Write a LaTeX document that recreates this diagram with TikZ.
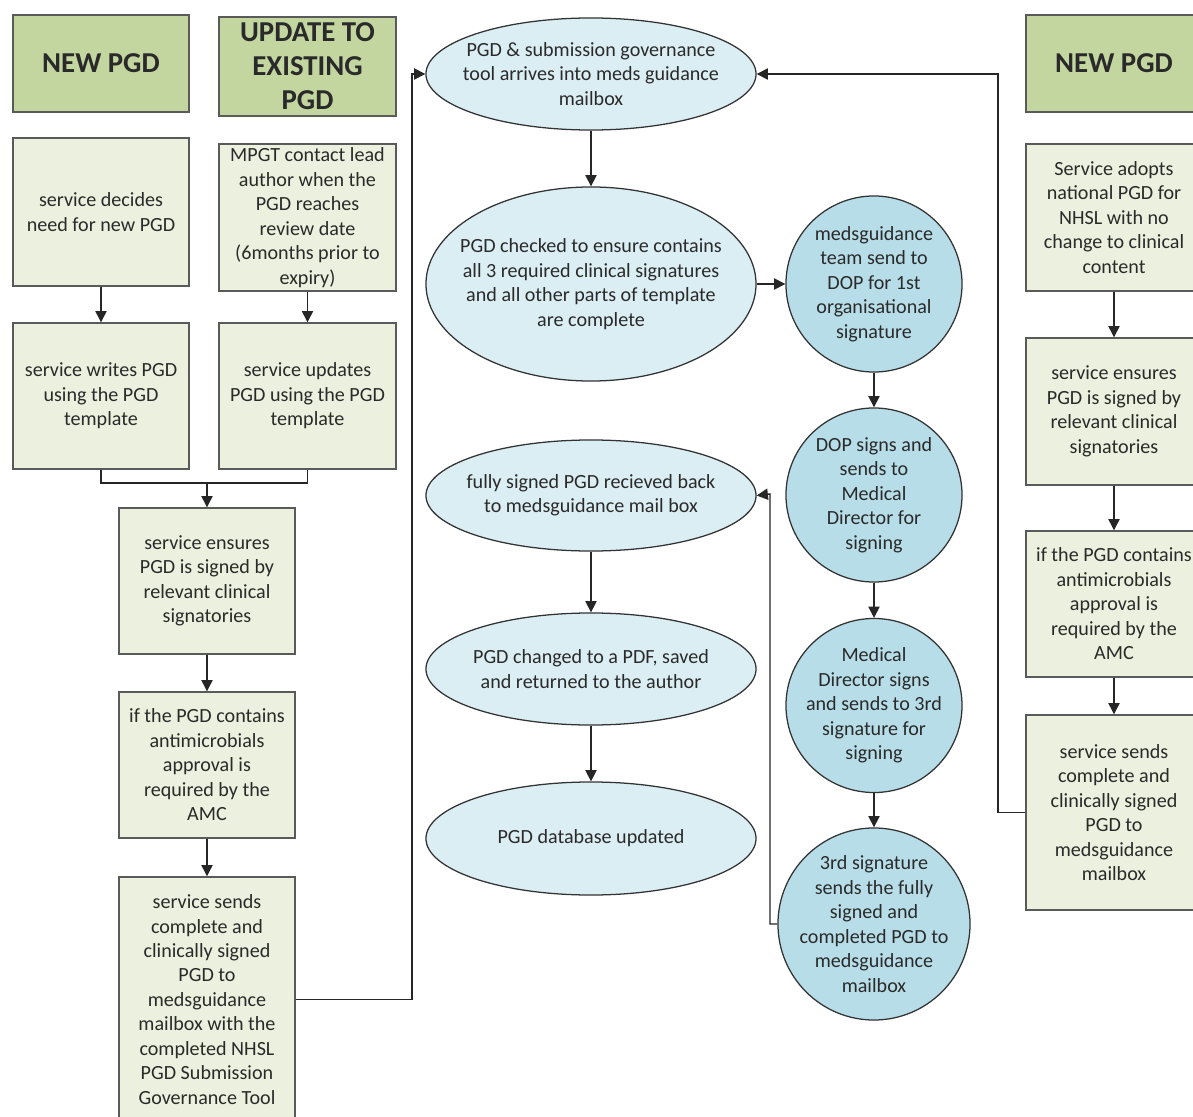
\documentclass[tikz,border=0pt]{standalone}
\usepackage{fontspec}
\setmainfont{Carlito}
\usetikzlibrary{shapes.geometric,arrows.meta}
\definecolor{hdr}{HTML}{C4D6A0}
\definecolor{boxg}{HTML}{EBF1DE}
\definecolor{ellb}{HTML}{DBEEF4}
\definecolor{circb}{HTML}{B7DEE8}
\definecolor{edge}{HTML}{5A5A5A}
\definecolor{txt}{HTML}{2A2A2A}
\tikzset{
  txtfont/.style={font=\fontsize{14.3}{17.4}\selectfont, text=txt, align=center},
  hdrbox/.style={draw=edge, line width=1pt, fill=hdr, inner sep=0pt, font=\fontsize{20.5}{24.2}\selectfont\bfseries, text=txt, align=center},
  stepbox/.style={draw=edge, line width=1pt, fill=boxg, inner sep=0pt, txtfont},
  ellnode/.style={draw=black!80, line width=0.9pt, fill=ellb, ellipse, inner sep=0pt},
  circnode/.style={draw=black!80, line width=0.9pt, fill=circb, ellipse, inner sep=0pt},
  lbl/.style={txtfont, inner sep=0pt},
  arr/.style={draw=black!85, line width=1pt, -{Triangle[length=8pt,width=8pt]}},
  ln/.style={draw=black!85, line width=1pt}
}
\begin{document}
\begin{tikzpicture}[x=0.025cm,y=-0.025cm]
\clip (0,0) rectangle (1193,1117);
\fill[white] (0,0) rectangle (1193,1117);
% left column
\node[hdrbox, minimum width=4.4cm, minimum height=2.425cm] (hA) at (101,63.5) {NEW PGD};
\node[hdrbox, minimum width=4.425cm, minimum height=2.475cm] (hB) at (307.5,66.5) {UPDATE TO\\EXISTING\\PGD};
\node[stepbox, minimum width=4.4cm, minimum height=3.7cm] (a1) at (101,212) {service decides\\need for new PGD};
\node[stepbox, minimum width=4.425cm, minimum height=3.675cm] (b1) at (307.5,217.5) {MPGT contact lead\\author when the\\PGD reaches\\review date\\(6months prior to\\expiry)};
\node[stepbox, minimum width=4.4cm, minimum height=3.65cm] (a2) at (101,396) {service writes PGD\\using the PGD\\template};
\node[stepbox, minimum width=4.425cm, minimum height=3.65cm] (b2) at (307.5,396) {service updates\\PGD using the PGD\\template};
\node[stepbox, minimum width=4.4cm, minimum height=3.65cm] (m1) at (207,581) {service ensures\\PGD is signed by\\relevant clinical\\signatories};
\node[stepbox, minimum width=4.4cm, minimum height=3.65cm] (m2) at (207,765) {if the PGD contains\\antimicrobials\\approval is\\required by the\\AMC};
\node[stepbox, minimum width=4.4cm, minimum height=6.125cm] (m3) at (207,999.5) {service sends\\complete and\\clinically signed\\PGD to\\medsguidance\\mailbox with the\\completed NHSL\\PGD Submission\\Governance Tool};
% centre ellipses
\node[ellnode, minimum width=8.25cm, minimum height=2.8cm] (e1) at (591,74) {};
\node[lbl] (t1) at (e1.center) {PGD \& submission governance\\tool arrives into meds guidance\\mailbox};
\node[ellnode, minimum width=8.25cm, minimum height=4.85cm] (e2) at (591,284) {};
\node[lbl] (t2) at (e2.center) {PGD checked to ensure contains\\all 3 required clinical signatures\\and all other parts of template\\are complete};
\node[ellnode, minimum width=8.25cm, minimum height=2.775cm] (e3) at (591,495.5) {};
\node[lbl] (t3) at (e3.center) {fully signed PGD recieved back\\to medsguidance mail box};
\node[ellnode, minimum width=8.25cm, minimum height=2.8cm] (e4) at (591,669) {};
\node[lbl] (t4) at (e4.center) {PGD changed to a PDF, saved\\and returned to the author};
\node[ellnode, minimum width=8.25cm, minimum height=2.825cm] (e5) at (591,838.5) {};
\node[lbl] (t5) at (e5.center) {PGD database updated};
% circles
\node[circnode, minimum width=4.4cm, minimum height=4.4cm] (c1) at (874,284) {};
\node[lbl] (u1) at (c1.center) {medsguidance\\team send to\\DOP for 1st\\organisational\\signature};
\node[circnode, minimum width=4.4cm, minimum height=4.35cm] (c2) at (874,495) {};
\node[lbl] (u2) at (c2.center) {DOP signs and\\sends to\\Medical\\Director for\\signing};
\node[circnode, minimum width=4.4cm, minimum height=4.35cm] (c3) at (874,705.5) {};
\node[lbl] (u3) at (c3.center) {Medical\\Director signs\\and sends to 3rd\\signature for\\signing};
\node[circnode, minimum width=4.8cm, minimum height=4.8cm] (c4) at (874,924) {};
\node[lbl] (u4) at (c4.center) {3rd signature\\sends the fully\\signed and\\completed PGD to\\medsguidance\\mailbox};
% right column
\node[hdrbox, minimum width=4.4cm, minimum height=2.425cm] (hC) at (1114,63.5) {NEW PGD};
\node[stepbox, minimum width=4.4cm, minimum height=3.675cm] (r1) at (1114,217.5) {Service adopts\\national PGD for\\NHSL with no\\change to clinical\\content};
\node[stepbox, minimum width=4.4cm, minimum height=3.675cm] (r2) at (1114,411.5) {service ensures\\PGD is signed by\\relevant clinical\\signatories};
\node[stepbox, minimum width=4.4cm, minimum height=3.65cm] (r3) at (1114,604) {if the PGD contains\\antimicrobials\\approval is\\required by the\\AMC};
\node[stepbox, minimum width=4.4cm, minimum height=4.875cm] (r4) at (1114,812.5) {service sends\\complete and\\clinically signed\\PGD to\\medsguidance\\mailbox};
% connectors left
\coordinate (j) at (207,483);
\draw[arr] (a1.south) -- (a2.north);
\draw[arr] (b1.south) -- (b2.north);
\draw[ln] (a2.south) |- (j);
\draw[ln] (b2.south) |- (j);
\draw[arr] (j) -- (m1.north);
\draw[arr] (m1.south) -- (m2.north);
\draw[arr] (m2.south) -- (m3.north);
\coordinate (k1) at (412,74);
\draw[arr] (m3.east) -| (k1) -- (e1.west);
% centre
\draw[arr] (e1.south) -- (e2.north);
\draw[arr] (e2.east) -- (c1.west);
\draw[arr] (c1.south) -- (c2.north);
\draw[arr] (c2.south) -- (c3.north);
\draw[arr] (c3.south) -- (c4.north);
\coordinate (k3) at (770,494);
\draw[arr] (c4.west) -| (k3) -- (e3.east);
\draw[arr] (e3.south) -- (e4.north);
\draw[arr] (e4.south) -- (e5.north);
% right
\draw[arr] (r1.south) -- (r2.north);
\draw[arr] (r2.south) -- (r3.north);
\draw[arr] (r3.south) -- (r4.north);
\coordinate (k2) at (998,74);
\draw[arr] (r4.west) -| (k2) -- (e1.east);
\end{tikzpicture}
\end{document}
